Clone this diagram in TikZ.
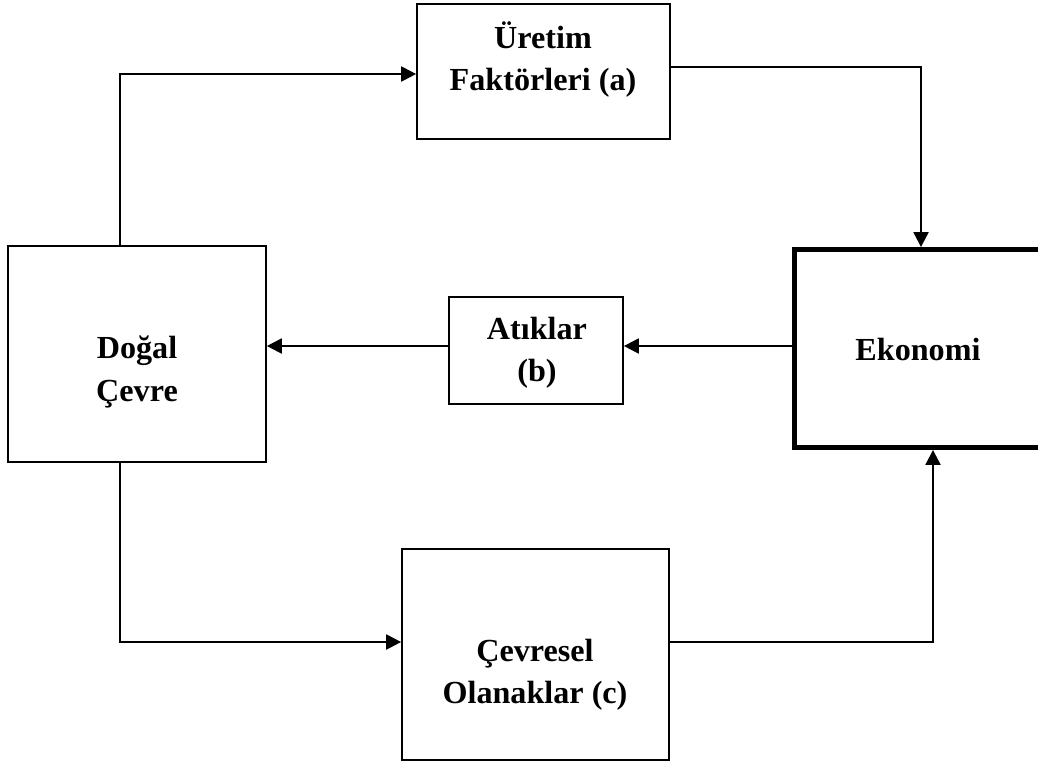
\documentclass[tikz,border=0pt]{standalone}
\usepackage{fontspec}
\setmainfont{Liberation Serif}
\usetikzlibrary{arrows.meta,calc}
\begin{document}
\begin{tikzpicture}[x=0.02cm,y=-0.02cm,
  box/.style={draw=black,line width=1pt,fill=white,inner sep=0pt},
  thickbox/.style={draw=black,line width=2.8pt,fill=white,inner sep=0pt},
  lbl/.style={font=\fontsize{18.3}{24}\selectfont\bfseries,align=center,inner sep=0pt},
  arr/.style={line width=1.2pt,-{Triangle[length=8.5pt,width=8.5pt]}},
  conn/.style={line width=1.2pt}]
\useasboundingbox (0,0) rectangle (1038,762);
\fill[white] (0,0) rectangle (1038,762);
% boxes
\node[box,minimum width=5.06cm,minimum height=2.70cm] (uret) at (543.5,71.5) {};
\node[box,minimum width=5.16cm,minimum height=4.32cm] (dogal) at (137,354) {};
\node[thickbox,minimum width=4.99cm,minimum height=3.96cm] (ekon) at (919.25,348.5) {};
\node[box,minimum width=3.48cm,minimum height=2.14cm] (atik) at (536,350.5) {};
\node[box,minimum width=5.34cm,minimum height=4.22cm] (cevr) at (535.5,654.5) {};
% labels
\node[lbl] (turet) at (543,59.5) {Üretim\\Faktörleri (a)};
\node[lbl] (tdogal) at (137,372) {Doğal\\Çevre};
\node[lbl] (tatik) at (537,353) {Atıklar\\(b)};
\node[lbl] (tekon) at (918,349) {Ekonomi};
\node[lbl] (tcevr) at (535,674.5) {Çevresel\\Olanaklar (c)};
% routing coordinates
\coordinate (k1) at (120,74);
\coordinate (k2) at (921,67);
\coordinate (k3) at (0,346);
\coordinate (k4) at (0,642);
\coordinate (k5) at (933,0);
% connectors
\draw[arr] (k1 |- dogal.north) |- (uret.west |- k1);
\draw[arr] (uret.east |- k2) -| (k2 |- ekon.north);
\draw[arr] (ekon.west |- k3) -- (atik.east |- k3);
\draw[arr] (atik.west |- k3) -- (dogal.east |- k3);
\draw[arr] (k1 |- dogal.south) |- (cevr.west |- k4);
\draw[arr] (cevr.east |- k4) -| (k5 |- ekon.south);
\end{tikzpicture}
\end{document}
